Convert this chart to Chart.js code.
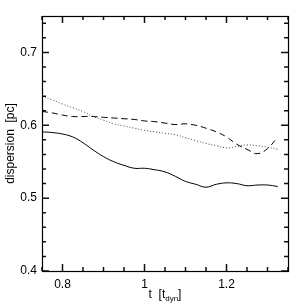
<!DOCTYPE html>
<html>
<head>
<meta charset="utf-8">
<script src="https://cdn.jsdelivr.net/npm/chart.js@4/dist/chart.umd.min.js"></script>
<style>
  html, body { margin: 0; padding: 0; background: #fff; }
  #wrap { width: 304px; height: 304px; }
</style>
</head>
<body>
<div id="wrap"><canvas id="c" width="304" height="304"></canvas></div>
<script>
// time in dynamical times
const times = [0.75, 0.775, 0.8, 0.825, 0.85, 0.875, 0.9, 0.925, 0.95, 0.975,
               1.0, 1.025, 1.05, 1.075, 1.1, 1.125, 1.15, 1.175, 1.2, 1.225,
               1.25, 1.275, 1.3, 1.325];

const solidSeries = [0.591, 0.590, 0.588, 0.584, 0.576, 0.566, 0.557, 0.550, 0.545, 0.541,
                     0.541, 0.539, 0.536, 0.530, 0.523, 0.519, 0.515, 0.519, 0.521, 0.520,
                     0.517, 0.518, 0.518, 0.516];

const dashedSeries = [0.619, 0.617, 0.614, 0.612, 0.612, 0.612, 0.611, 0.610, 0.609, 0.608,
                      0.606, 0.605, 0.603, 0.601, 0.602, 0.600, 0.596, 0.591, 0.584, 0.574,
                      0.567, 0.561, 0.568, 0.584];

const dottedSeries = [0.640, 0.635, 0.629, 0.624, 0.619, 0.612, 0.607, 0.602, 0.599, 0.596,
                      0.593, 0.591, 0.589, 0.587, 0.583, 0.579, 0.575, 0.572, 0.569, 0.571,
                      0.573, 0.572, 0.570, 0.567];

const xTicks = [0.8, 1.0, 1.2];
const yTicks = [0.4, 0.5, 0.6, 0.7];

const toPoints = (ys) => ys.map((y, i) => ({ x: times[i], y: y }));

const FONT = '"Liberation Sans", Arial, sans-serif';

// inward tick marks on all four sides
const tickPlugin = {
    id: 'innerTicks',
    afterDatasetsDraw: (chart) => {
        const c = chart.ctx;
        const a = chart.chartArea;
        const xs = chart.scales.x;
        const ys = chart.scales.y;
        c.save();
        c.setLineDash([]);
        c.strokeStyle = '#111';
        c.lineWidth = 1.5;
        c.beginPath();
        for (let k = 15; k <= 27; k++) {
            const px = xs.left + (k * 0.05 - xs.min) / (xs.max - xs.min) * xs.width;
            const len = (k % 4 === 0) ? 7 : 4;
            c.moveTo(px, a.bottom);
            c.lineTo(px, a.bottom - len);
            c.moveTo(px, a.top);
            c.lineTo(px, a.top + len);
        }
        for (let k = 20; k <= 37; k++) {
            const py = ys.bottom - (k * 0.02 - ys.min) / (ys.max - ys.min) * ys.height;
            const len = (k % 5 === 0) ? 7 : 4;
            c.moveTo(a.left, py);
            c.lineTo(a.left + len, py);
            c.moveTo(a.right, py);
            c.lineTo(a.right - len, py);
        }
        c.stroke();
        c.restore();
    }
};

// frame and axis titles
const framePlugin = {
    id: 'frame',
    afterDraw: (chart) => {
        const c = chart.ctx;
        const a = chart.chartArea;
        const L = Math.round(a.left), R = Math.round(a.right);
        const T = Math.round(a.top), B = Math.round(a.bottom);
        c.save();
        c.setLineDash([]);
        c.strokeStyle = '#000';
        c.lineWidth = 1.2;
        c.strokeRect(L + 0.5, T + 0.5, R - L, B - T);

        // x title: t [t_dyn]
        c.fillStyle = '#000';
        c.textBaseline = 'alphabetic';
        const cx = (a.left + a.right) / 2;
        const main = 't  [t';
        c.font = '8px ' + FONT;
        const subW = c.measureText('dyn').width;
        c.font = '12px ' + FONT;
        const mainW = c.measureText(main).width;
        const closeW = c.measureText(']').width;
        const x0 = cx - (mainW + subW + closeW) / 2;
        const by = 298;
        c.textAlign = 'left';
        c.fillText(main, x0, by);
        c.font = '8px ' + FONT;
        c.fillText('dyn', x0 + mainW, by + 3);
        c.font = '12px ' + FONT;
        c.fillText(']', x0 + mainW + subW, by);

        // y title
        c.translate(14, (a.top + a.bottom) / 2);
        c.rotate(-Math.PI / 2);
        c.textAlign = 'center';
        c.font = '12px ' + FONT;
        c.fillText('dispersion  [pc]', 0, 0);
        c.restore();
    }
};

new Chart(document.getElementById('c').getContext('2d'), {
    type: 'line',
    data: {
        datasets: [
            {
                label: 'solid',
                data: toPoints(solidSeries),
                borderColor: '#000',
                borderWidth: 1,
                pointRadius: 0,
                tension: 0.4
            },
            {
                label: 'dashed',
                data: toPoints(dashedSeries),
                borderColor: '#000',
                borderWidth: 1,
                borderDash: [6, 4],
                pointRadius: 0,
                tension: 0.4
            },
            {
                label: 'dotted',
                data: toPoints(dottedSeries),
                borderColor: '#444',
                borderWidth: 1,
                borderDash: [1, 2],
                pointRadius: 0,
                tension: 0.4
            }
        ]
    },
    options: {
        responsive: false,
        animation: false,
        layout: { padding: { top: 16, right: 16, left: 0, bottom: 0 } },
        plugins: {
            legend: { display: false },
            tooltip: { enabled: false }
        },
        scales: {
            x: {
                type: 'linear',
                min: 0.75,
                max: 1.35,
                grid: { display: false, drawTicks: false },
                border: { display: false },
                afterBuildTicks: (scale) => { scale.ticks = xTicks.map(v => ({ value: v })); },
                afterFit: (scale) => { scale.height = 33; },
                ticks: {
                    padding: 6,
                    color: '#000',
                    maxRotation: 0,
                    font: { family: FONT, size: 12 },
                    callback: (v) => String(Math.round(v * 10) / 10)
                }
            },
            y: {
                type: 'linear',
                min: 0.4,
                max: 0.75,
                grid: { display: false, drawTicks: false },
                border: { display: false },
                afterBuildTicks: (scale) => { scale.ticks = yTicks.map(v => ({ value: v })); },
                afterFit: (scale) => { scale.width = 42; },
                ticks: {
                    padding: 5,
                    color: '#000',
                    font: { family: FONT, size: 12 },
                    callback: (v) => v.toFixed(1)
                }
            }
        }
    },
    plugins: [tickPlugin, framePlugin]
});
</script>
</body>
</html>
